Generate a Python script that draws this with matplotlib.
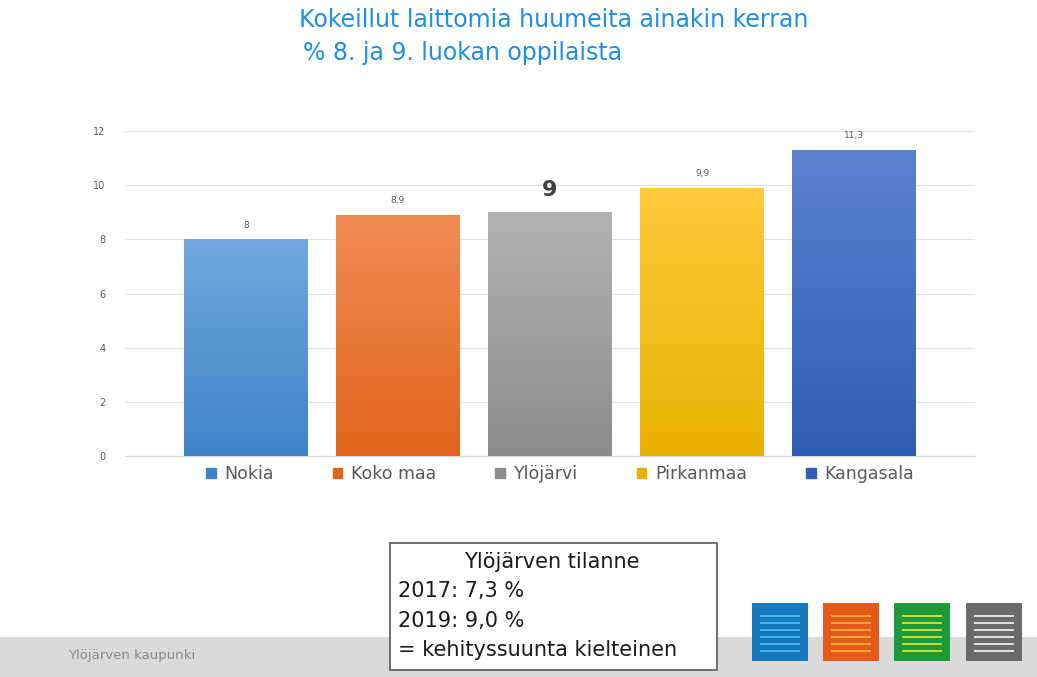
import matplotlib
matplotlib.use('Agg')
import matplotlib.pyplot as plt
import numpy as np
from matplotlib.patches import Rectangle
from matplotlib.colors import LinearSegmentedColormap

# data
regions = ['Nokia', 'Koko maa', 'Ylöjärvi', 'Pirkanmaa', 'Kangasala']
values = [8.0, 8.9, 9.0, 9.9, 11.3]
value_labels = ['8', '8,9', '9', '9,9', '11,3']
top_colors = ['#72a9dd', '#f28c55', '#b3b3b3', '#ffc93c', '#5b82cf']
bottom_colors = ['#3d84c6', '#e0651a', '#8c8c8c', '#e8b100', '#2e5db6']
yticks = [0, 2, 4, 6, 8, 10, 12]

title1 = 'Kokeillut laittomia huumeita ainakin kerran'
title2 = '% 8. ja 9. luokan oppilaista'
box_lines = ['2017: 7,3 %', '2019: 9,0 %', '= kehityssuunta kielteinen']

fig = plt.figure(figsize=(10.37, 6.77), dpi=100)
W, H = 1037, 677

def fx(px):
    return px / W

def fy(py):
    return 1 - py / H

ax = fig.add_axes([fx(125), fy(456), fx(975) - fx(125), fy(131) - fy(456)])
x = np.arange(len(regions))
bars = ax.bar(x, values, width=0.815, color='none', zorder=3)

# gradient fill for each bar
grad = np.linspace(0, 1, 256).reshape(-1, 1)
for b, c1, c2 in zip(bars, top_colors, bottom_colors):
    cmap = LinearSegmentedColormap.from_list('g', [c2, c1])
    x0, y0 = b.get_x(), b.get_y()
    im = ax.imshow(grad, cmap=cmap, origin='lower', aspect='auto',
                   extent=[x0, x0 + b.get_width(), y0, y0 + b.get_height()], zorder=3)
    im.set_clip_path(b)

ax.set_xlim(-0.795, 4.795)
ax.set_ylim(0, 12)
ax.set_yticks(yticks)
ax.set_yticklabels([str(t) for t in yticks], fontsize=7, color='#595959')
ax.set_xticks([])
ax.grid(axis='y', color='#e3e3e3', linewidth=0.9, zorder=0)
for s in ['top', 'right', 'left']:
    ax.spines[s].set_visible(False)
ax.spines['bottom'].set_color('#d9d9d9')
ax.tick_params(axis='y', length=0, pad=14)

for i, (v, lab) in enumerate(zip(values, value_labels)):
    if lab == '9':
        ax.text(i, v + 0.45, lab, ha='center', va='bottom', fontsize=16,
                color='#404040', fontweight='bold')
    else:
        ax.text(i, v + 0.35, lab, ha='center', va='bottom', fontsize=6.5, color='#595959')

# legend
handles = [Rectangle((0, 0), 1, 1, color=c) for c in bottom_colors]
fig.legend(handles, regions, loc='center', bbox_to_anchor=(fx(560), fy(474)),
           ncol=5, frameon=False, fontsize=12.5, labelcolor='#595959',
           handlelength=0.55, handleheight=0.55, handletextpad=0.5, columnspacing=3.4)

# title
fig.text(fx(554), fy(20), title1, ha='center', va='center', fontsize=17, color='#1f8fe3')
fig.text(fx(303), fy(53), title2, ha='left', va='center', fontsize=17, color='#1f8fe3')

# footer band
fig.patches.append(Rectangle((0, 0), 1, fy(637), transform=fig.transFigure,
                             facecolor='#dadadb', edgecolor='none', zorder=0))
fig.text(fx(68), fy(655), 'Ylöjärven kaupunki', ha='left', va='center',
         fontsize=9.5, color='#8a8a8a')

# info box
fig.patches.append(Rectangle((fx(390), fy(670)), fx(717) - fx(390), fy(543) - fy(670),
                             transform=fig.transFigure, facecolor='white',
                             edgecolor='#595959', linewidth=1.2, zorder=2))
fig.text(fx(552), fy(562), 'Ylöjärven tilanne', ha='center', va='center',
         fontsize=15, color='#1a1a1a', zorder=3)
for py, line in zip([591, 621, 650], box_lines):
    fig.text(fx(398), fy(py), line, ha='left', va='center', fontsize=15,
             color='#1a1a1a', zorder=3)

# logos
def logo(x0, bg, stripe):
    fig.patches.append(Rectangle((fx(x0), fy(661)), fx(56), fy(603) - fy(661),
                                 transform=fig.transFigure, facecolor=bg,
                                 edgecolor='none', zorder=2))
    for k in range(6):
        yy = 615 + k * 7
        fig.patches.append(Rectangle((fx(x0 + 8), fy(yy + 2)), fx(40), fy(yy) - fy(yy + 2),
                                     transform=fig.transFigure, facecolor=stripe,
                                     edgecolor='none', zorder=3))

logo(752, '#1877bd', '#3fb8e8')
logo(823, '#e55a1a', '#f5a531')
logo(894, '#1c9a3c', '#c8dc2a')
logo(966, '#6b6b6b', '#e0e0e0')

fig.savefig('out.png', dpi=100)
